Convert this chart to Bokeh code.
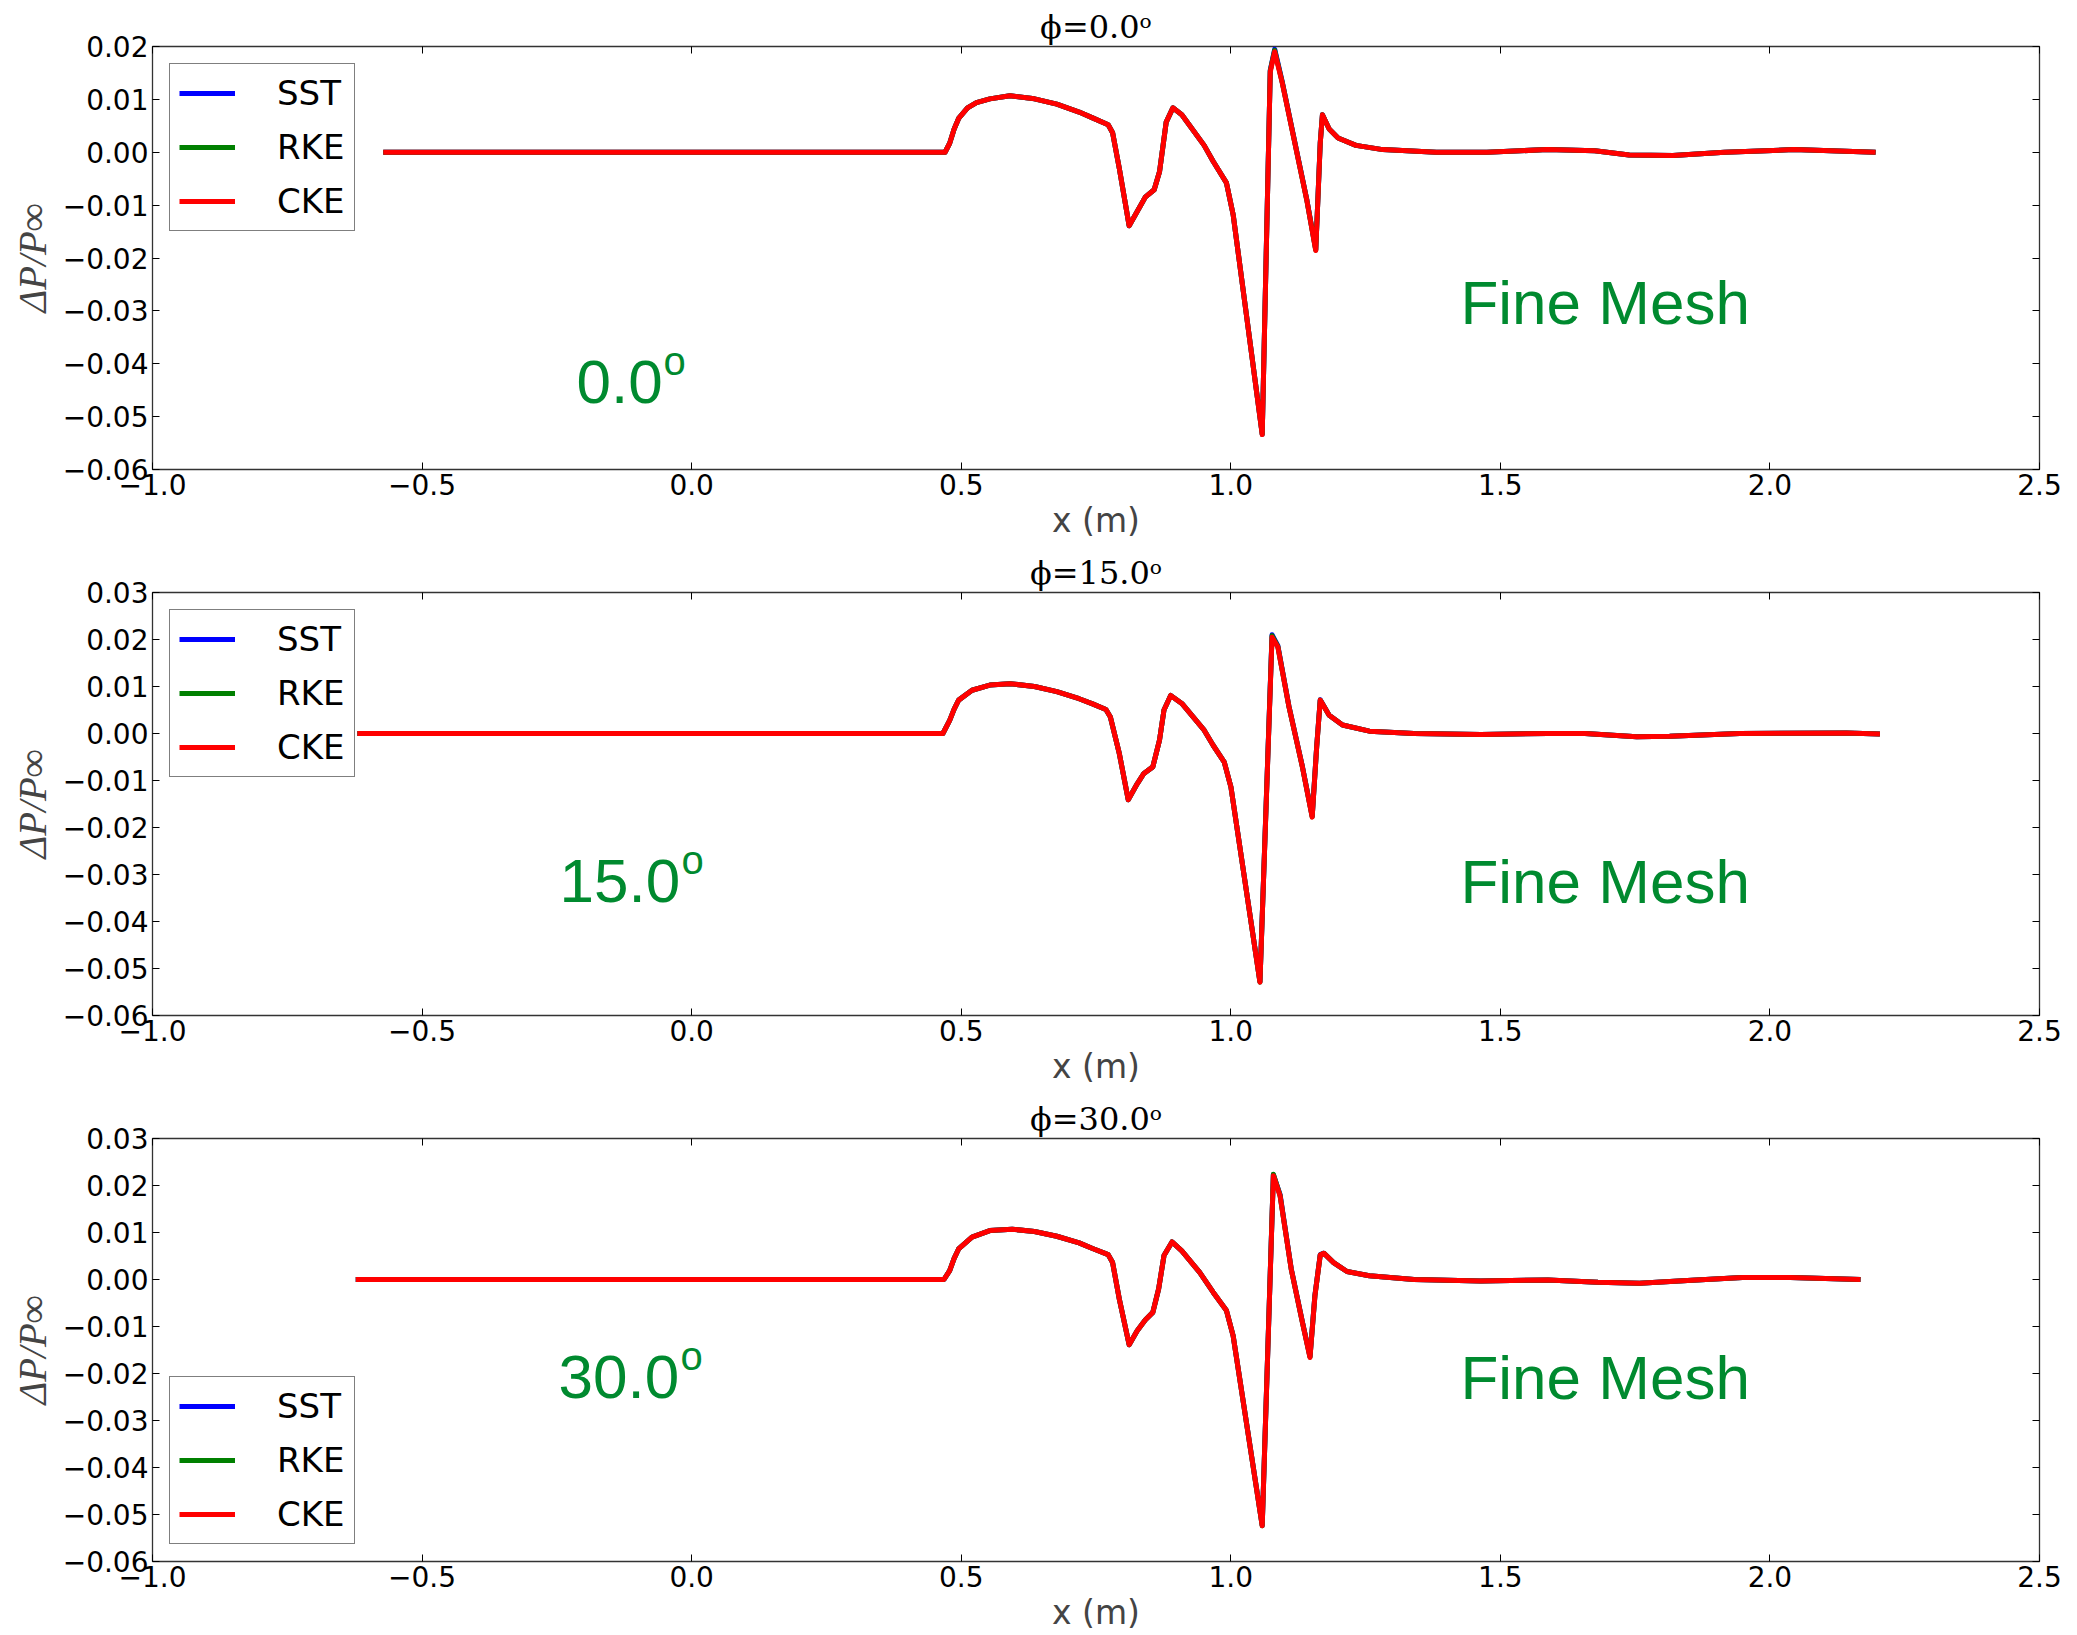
from bokeh.plotting import figure
from bokeh.layouts import column
from bokeh.models import Range1d, FixedTicker, CustomJSTickFormatter, LinearAxis
from bokeh.core.properties import value
from bokeh.embed import file_html
from bokeh.resources import INLINE

# ---------------- data ----------------
X_TICKS = [-1.0, -0.5, 0.0, 0.5, 1.0, 1.5, 2.0, 2.5]
Y_TICKS_0 = [-0.06, -0.05, -0.04, -0.03, -0.02, -0.01, 0.0, 0.01, 0.02]
Y_TICKS_15 = [-0.06, -0.05, -0.04, -0.03, -0.02, -0.01, 0.0, 0.01, 0.02, 0.03]
Y_TICKS_30 = [-0.06, -0.05, -0.04, -0.03, -0.02, -0.01, 0.0, 0.01, 0.02, 0.03]

SERIES = ["SST", "RKE", "CKE"]
COLORS = ["#0000ff", "#008000", "#ff0000"]

# phi = 0.0
X_0 = [-0.572, 0.470, 0.4786, 0.4869, 0.4952, 0.5117, 0.5283, 0.5531, 0.5904, 0.6359,
       0.6773, 0.7187, 0.7436, 0.7726, 0.7808, 0.7933, 0.8115, 0.8264, 0.8413, 0.8579,
       0.8678, 0.8802, 0.8926, 0.9092, 0.9506, 0.9672, 0.9920, 1.0044, 1.0583, 1.0732,
       1.0814, 1.0955, 1.1411, 1.1576, 1.1659, 1.1700, 1.1825, 1.1990, 1.2322, 1.2818,
       1.3812, 1.475, 1.587, 1.675, 1.739, 1.820, 1.916, 2.044, 2.196]
CKE_0 = [0.0, 0.0, 0.0017, 0.0044, 0.0064, 0.0084, 0.0094, 0.0101, 0.0107, 0.0101,
         0.0091, 0.0076, 0.0065, 0.0052, 0.0037, -0.0031, -0.0139, -0.0112, -0.0085, -0.0071,
         -0.0037, 0.0057, 0.0084, 0.0071, 0.0013, -0.0017, -0.0058, -0.0118, -0.0534, 0.0152,
         0.0190, 0.0131, -0.0091, -0.0186, 0.0017, 0.0071, 0.0044, 0.0027, 0.0013, 0.0005,
         0.0, 0.0, 0.0005, 0.0003, -0.0005, -0.0006, 0.0, 0.0005, 0.0]
SST_0 = [0.0, 0.0, 0.0017, 0.0044, 0.0064, 0.0084, 0.0094, 0.0101, 0.0107, 0.0101,
         0.0091, 0.0076, 0.0065, 0.0052, 0.0037, -0.0031, -0.0139, -0.0112, -0.0085, -0.0071,
         -0.0037, 0.0057, 0.0084, 0.0071, 0.0013, -0.0017, -0.0058, -0.0118, -0.0533, 0.0155,
         0.0195, 0.0133, -0.0090, -0.0184, 0.0018, 0.0071, 0.0044, 0.0027, 0.0013, 0.0005,
         0.0, 0.0, 0.0005, 0.0003, -0.0005, -0.0006, 0.0, 0.0005, 0.0]
RKE_0 = [0.0, 0.0, 0.0017, 0.0044, 0.0064, 0.0084, 0.0094, 0.0101, 0.0107, 0.0101,
         0.0091, 0.0076, 0.0065, 0.0052, 0.0037, -0.0031, -0.0139, -0.0112, -0.0085, -0.0071,
         -0.0037, 0.0057, 0.0084, 0.0071, 0.0013, -0.0017, -0.0058, -0.0118, -0.0533, 0.0154,
         0.0193, 0.0132, -0.0091, -0.0185, 0.0017, 0.0071, 0.0044, 0.0027, 0.0013, 0.0005,
         0.0, 0.0, 0.0005, 0.0003, -0.0005, -0.0006, 0.0, 0.0005, 0.0]

# phi = 15.0
X_15 = [-0.620, 0.466, 0.4786, 0.4869, 0.4952, 0.5200, 0.5531, 0.5904, 0.6359, 0.6773,
        0.7187, 0.7436, 0.7684, 0.7767, 0.7933, 0.8098, 0.8264, 0.8388, 0.8554, 0.8678,
        0.8761, 0.8885, 0.9092, 0.9506, 0.9672, 0.9879, 1.0003, 1.0541, 1.0765, 1.0873,
        1.1079, 1.1328, 1.1510, 1.1593, 1.1659, 1.1825, 1.2073, 1.2570, 1.3398, 1.4640,
        1.5882, 1.657, 1.753, 1.814, 1.944, 2.142, 2.204]
CKE_15 = [0.0, 0.0, 0.0028, 0.0052, 0.0071, 0.0092, 0.0103, 0.0106, 0.0100, 0.0089,
          0.0074, 0.0063, 0.0051, 0.0035, -0.0043, -0.0141, -0.0107, -0.0085, -0.0071, -0.0014,
          0.0050, 0.0081, 0.0064, 0.0007, -0.0025, -0.0061, -0.0114, -0.0529, 0.0205, 0.0184,
          0.0057, -0.0071, -0.0178, -0.0029, 0.0071, 0.0039, 0.0018, 0.0005, 0.0, -0.0002,
          0.0, 0.0, -0.0007, -0.0006, 0.0, 0.0001, -0.0001]
SST_15 = [0.0, 0.0, 0.0028, 0.0052, 0.0071, 0.0092, 0.0103, 0.0106, 0.0100, 0.0089,
          0.0074, 0.0063, 0.0051, 0.0035, -0.0043, -0.0141, -0.0107, -0.0085, -0.0071, -0.0014,
          0.0050, 0.0081, 0.0064, 0.0007, -0.0025, -0.0061, -0.0114, -0.0528, 0.0210, 0.0187,
          0.0058, -0.0070, -0.0176, -0.0028, 0.0072, 0.0039, 0.0018, 0.0005, 0.0, -0.0002,
          0.0, 0.0, -0.0007, -0.0006, 0.0, 0.0001, -0.0001]
RKE_15 = [0.0, 0.0, 0.0028, 0.0052, 0.0071, 0.0092, 0.0103, 0.0106, 0.0100, 0.0089,
          0.0074, 0.0063, 0.0051, 0.0035, -0.0043, -0.0141, -0.0107, -0.0085, -0.0071, -0.0014,
          0.0050, 0.0081, 0.0064, 0.0007, -0.0025, -0.0061, -0.0114, -0.0529, 0.0208, 0.0185,
          0.0057, -0.0071, -0.0177, -0.0029, 0.0071, 0.0039, 0.0018, 0.0005, 0.0, -0.0002,
          0.0, 0.0, -0.0007, -0.0006, 0.0, 0.0001, -0.0001]

# phi = 30.0
X_30 = [-0.623, 0.468, 0.4786, 0.4869, 0.4952, 0.5200, 0.5531, 0.5945, 0.6359, 0.6773,
        0.7187, 0.7436, 0.7726, 0.7808, 0.7933, 0.8115, 0.8264, 0.8413, 0.8554, 0.8662,
        0.8761, 0.8910, 0.9092, 0.9423, 0.9672, 0.9920, 1.0044, 1.0583, 1.0790, 1.0914,
        1.1121, 1.1328, 1.1469, 1.1560, 1.1659, 1.1725, 1.1907, 1.2155, 1.2570, 1.3398,
        1.4640, 1.5882, 1.681, 1.758, 1.847, 1.949, 2.038, 2.168]
CKE_30 = [0.0, 0.0, 0.0019, 0.0045, 0.0065, 0.0090, 0.0104, 0.0107, 0.0102, 0.0092,
          0.0078, 0.0066, 0.0053, 0.0036, -0.0042, -0.0139, -0.0109, -0.0086, -0.0070, -0.0020,
          0.0051, 0.0080, 0.0061, 0.0015, -0.0027, -0.0066, -0.0120, -0.0524, 0.0221, 0.0178,
          0.0022, -0.0091, -0.0166, -0.0035, 0.0052, 0.0056, 0.0036, 0.0017, 0.0008, 0.0,
          -0.0003, -0.0001, -0.0006, -0.0008, -0.0002, 0.0004, 0.0004, 0.0]
SST_30 = [0.0, 0.0, 0.0019, 0.0045, 0.0065, 0.0090, 0.0104, 0.0107, 0.0102, 0.0092,
          0.0078, 0.0066, 0.0053, 0.0036, -0.0042, -0.0139, -0.0109, -0.0086, -0.0070, -0.0020,
          0.0051, 0.0080, 0.0061, 0.0015, -0.0027, -0.0066, -0.0120, -0.0523, 0.0223, 0.0181,
          0.0023, -0.0090, -0.0164, -0.0034, 0.0053, 0.0056, 0.0036, 0.0017, 0.0008, 0.0,
          -0.0003, -0.0001, -0.0006, -0.0008, -0.0002, 0.0004, 0.0004, 0.0]
RKE_30 = [0.0, 0.0, 0.0019, 0.0045, 0.0065, 0.0090, 0.0104, 0.0107, 0.0102, 0.0092,
          0.0078, 0.0066, 0.0053, 0.0036, -0.0042, -0.0139, -0.0109, -0.0086, -0.0070, -0.0020,
          0.0051, 0.0080, 0.0061, 0.0015, -0.0027, -0.0066, -0.0120, -0.0524, 0.0224, 0.0179,
          0.0022, -0.0091, -0.0165, -0.0035, 0.0052, 0.0056, 0.0036, 0.0017, 0.0008, 0.0,
          -0.0003, -0.0001, -0.0006, -0.0008, -0.0002, 0.0004, 0.0004, 0.0]

PANELS = [
    dict(title="\u03d5=0.0\u1d52", angle="0.0", ymax=0.02, yticks=Y_TICKS_0, x=X_0,
         ys=[SST_0, RKE_0, CKE_0], legend="top_left",
         angle_pos=(-0.2135, -0.0435), mesh_pos=(1.426, -0.0285), o_off=87,
         height=546, top=46, bottom=77),
    dict(title="\u03d5=15.0\u1d52", angle="15.0", ymax=0.03, yticks=Y_TICKS_15, x=X_15,
         ys=[SST_15, RKE_15, CKE_15], legend="top_left",
         angle_pos=(-0.245, -0.0314), mesh_pos=(1.426, -0.0314), o_off=122,
         height=546, top=46, bottom=77),
    dict(title="\u03d5=30.0\u1d52", angle="30.0", ymax=0.03, yticks=Y_TICKS_30, x=X_30,
         ys=[SST_30, RKE_30, CKE_30], legend="bottom_left",
         angle_pos=(-0.247, -0.0208), mesh_pos=(1.426, -0.0208), o_off=122,
         height=543, top=46, bottom=74),
]

GREEN = "#008a2f"
TICK_FONT = "DejaVu Sans"

yfmt_code = """
const v = Math.abs(tick) < 1e-9 ? 0 : tick;
return v.toFixed(2).replace('-', '\\u2212');
"""
xfmt_code = """
const v = Math.abs(tick) < 1e-9 ? 0 : tick;
return v.toFixed(1).replace('-', '\\u2212');
"""
blank_code = "return '';"


def style_axis(ax, ticks, fmt, show_labels=True):
    ax.ticker = FixedTicker(ticks=ticks)
    ax.major_tick_in = 7
    ax.major_tick_out = 0
    ax.minor_tick_line_color = None
    ax.major_tick_line_color = "black"
    ax.major_tick_line_width = 1
    ax.axis_line_color = None
    ax.major_label_text_font = TICK_FONT
    ax.major_label_text_color = "black"
    if show_labels:
        ax.formatter = CustomJSTickFormatter(code=fmt)
        ax.major_label_text_font_size = "28px"
        ax.major_label_standoff = 4
    else:
        ax.formatter = CustomJSTickFormatter(code=blank_code)
        ax.major_label_text_font_size = "10px"
        ax.major_label_standoff = 0


figs = []
for cfg in PANELS:
    p = figure(width=2077, height=cfg["height"], output_backend="svg", toolbar_location=None,
               x_range=Range1d(-1.0, 2.5), y_range=Range1d(-0.06, cfg["ymax"]),
               min_border_left=152, min_border_right=38,
               min_border_top=cfg["top"], min_border_bottom=cfg["bottom"],
               title=cfg["title"])
    p.background_fill_color = "white"
    p.border_fill_color = "white"
    p.outline_line_color = "#333333"
    p.outline_line_width = 1.3
    p.grid.visible = False

    p.title.align = "center"
    p.title.text_font = "DejaVu Serif"
    p.title.text_font_size = "32px"
    p.title.text_font_style = "normal"
    p.title.text_color = "black"
    p.title.standoff = 1

    style_axis(p.xaxis[0], X_TICKS, xfmt_code)
    style_axis(p.yaxis[0], cfg["yticks"], yfmt_code)
    p.xaxis[0].axis_label = "x (m)"
    p.xaxis[0].axis_label_text_font = "DejaVu Sans"
    p.xaxis[0].axis_label_text_font_size = "33px"
    p.xaxis[0].axis_label_text_font_style = "normal"
    p.xaxis[0].axis_label_standoff = 3
    p.yaxis[0].axis_label = "\u0394P/P\u221e"
    p.yaxis[0].axis_label_text_font = "Liberation Serif"
    p.yaxis[0].axis_label_text_font_size = "39px"
    p.yaxis[0].axis_label_text_font_style = "italic"
    p.yaxis[0].axis_label_standoff = 6

    top_ax = LinearAxis()
    style_axis(top_ax, X_TICKS, xfmt_code, show_labels=False)
    p.add_layout(top_ax, "above")
    right_ax = LinearAxis()
    style_axis(right_ax, cfg["yticks"], yfmt_code, show_labels=False)
    p.add_layout(right_ax, "right")

    for name, color, ys in zip(SERIES, COLORS, cfg["ys"]):
        p.line(cfg["x"], ys, line_color=color, line_width=5, line_join="round",
               legend_label=name)

    lg = p.legend[0]
    lg.location = cfg["legend"]
    lg.margin = 17
    lg.padding = 9
    lg.spacing = 14
    lg.glyph_width = 56
    lg.glyph_height = 38
    lg.label_height = 38
    lg.label_standoff = 42
    lg.label_text_font = "DejaVu Sans"
    lg.label_text_font_size = "34px"
    lg.label_text_color = "black"
    lg.border_line_color = "black"
    lg.border_line_width = 1.2
    lg.background_fill_color = "white"
    lg.background_fill_alpha = 1.0

    ax_, ay_ = cfg["angle_pos"]
    p.text(x=[ax_], y=[ay_], text=[cfg["angle"]], text_font=value("Liberation Sans"),
           text_font_size=value("62px"), text_color=GREEN, text_baseline="alphabetic",
           text_align="left")
    p.text(x=[ax_], y=[ay_], text=["o"], x_offset=cfg["o_off"], y_offset=-21,
           text_font=value("Liberation Sans"), text_font_size=value("40px"),
           text_color=GREEN, text_baseline="alphabetic", text_align="left")
    mx, my = cfg["mesh_pos"]
    p.text(x=[mx], y=[my], text=["Fine Mesh"], text_font=value("Liberation Sans"),
           text_font_size=value("62px"), text_color=GREEN, text_baseline="alphabetic",
           text_align="left")
    figs.append(p)

layout = column(*figs, spacing=0)
open("out.html", "w").write(file_html(layout, INLINE))
